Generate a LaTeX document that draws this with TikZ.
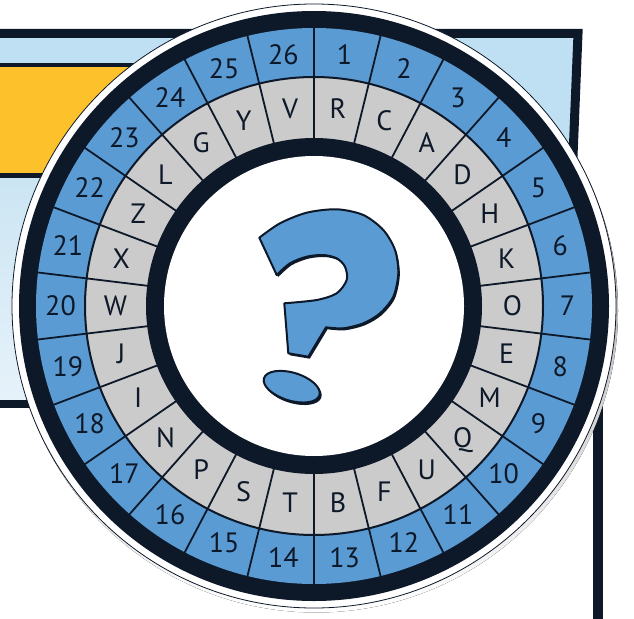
\documentclass[tikz,border=0pt]{standalone}
\usepackage{fontspec}
\setmainfont{PT Sans}
\definecolor{ink}{HTML}{0D1828}
\definecolor{ringblue}{HTML}{5B9BD3}
\definecolor{ringgray}{HTML}{CBCBCB}
\definecolor{gold}{HTML}{FCC12B}
\definecolor{pale}{HTML}{BEE0F2}
\definecolor{paleA}{HTML}{CCE5F3}
\definecolor{paleB}{HTML}{E6F2FA}
\definecolor{shade}{HTML}{4E5864}
\begin{document}
\begin{tikzpicture}[x=1pt,y=-1pt,
  ringtext/.style={font=\fontsize{28}{28}\selectfont, text=ink, inner sep=0pt, text height=19.5pt, text depth=0pt},
  divider/.style={draw=ink, line width=1.8pt},
  qmark/.style={insert path={
    plot[smooth] coordinates {(259.3,237.7) (280,223.3) (306.7,212.7) (336.7,209.3) (363.3,215) (383.3,230) (395,250) (398.3,273.3) (393.3,296.7) (380,313.3) (363.3,323.3) (343.3,328.3) (326,327.3)}
    -- (308.3,356.7) -- (288.3,353.3) -- (284.3,303.3)
    -- plot[smooth] coordinates {(284.3,303.3) (316.7,300) (336.7,293.3) (346.7,280) (345,266.7) (336.7,258.3) (323.3,255) (306.7,256.7) (290,263.3) (276.7,275)}
    -- cycle}}
]
\useasboundingbox (0,0) rectangle (634,618);
% background panel
\fill[pale] (-10,33) -- (578,33) -- (570,230) -- (-10,230) -- cycle;
\draw[ink, line width=9pt, line join=miter] (-10,33.5) -- (578,33.5) -- (570,230);
\fill[gold] (-10,64.7) rectangle (330,175.3);
\draw[ink, line width=4pt] (-10,64.7) -- (330,64.7);
\shade[top color=paleA, bottom color=paleB] (-10,177.8) rectangle (330,400);
\draw[ink, line width=5pt] (-10,175.3) -- (330,175.3);
\draw[ink, line width=8pt] (-10,404) -- (330,404);
\draw[ink, line width=10pt] (598,330) -- (598,630);
% disc
\coordinate (c) at (314,306);
\fill[shade] (316,310.5) circle (302pt);
\filldraw[fill=white, draw=ink, line width=0.8pt] (c) circle (302pt);
\fill[ink] (c) circle (295pt);
\fill[ringblue] (c) circle (278pt);
\fill[ringgray] (c) circle (229pt);
\draw[ink, line width=2pt] (c) circle (229pt);
\fill[ink] (c) circle (168pt);
\fill[white] (c) circle (150pt);
\foreach \k in {0,...,25}{
  \draw[divider] ({314+167*cos(90-\k*360/26)},{306-167*sin(90-\k*360/26)}) -- ({314+279*cos(90-\k*360/26)},{306-279*sin(90-\k*360/26)});
}
\foreach \t [count=\k] in {R,C,A,D,H,K,O,E,M,Q,U,F,B,T,S,P,N,I,J,W,X,Z,L,G,Y,V}{
  \node[ringtext] (l\k) at ({314+198.5*cos(90-(\k-0.5)*360/26)},{306-198.5*sin(90-(\k-0.5)*360/26)}) {\t};
}
\foreach \k in {1,...,26}{
  \node[ringtext] (n\k) at ({314+253.5*cos(90-(\k-0.5)*360/26)},{306-253.5*sin(90-(\k-0.5)*360/26)}) {\k};
}
% question mark
\fill[ink, shift={(1.5,2)}, qmark];
\filldraw[fill=ringblue, draw=ink, line width=2pt, line join=round, qmark];
\fill[ink, shift={(293.2,388.7)}, rotate=-17] (0,0) ellipse (29.5pt and 14.5pt);
\filldraw[fill=ringblue, draw=ink, line width=2pt, shift={(291.7,386.7)}, rotate=-17] (0,0) ellipse (29pt and 14pt);
\end{tikzpicture}
\end{document}
